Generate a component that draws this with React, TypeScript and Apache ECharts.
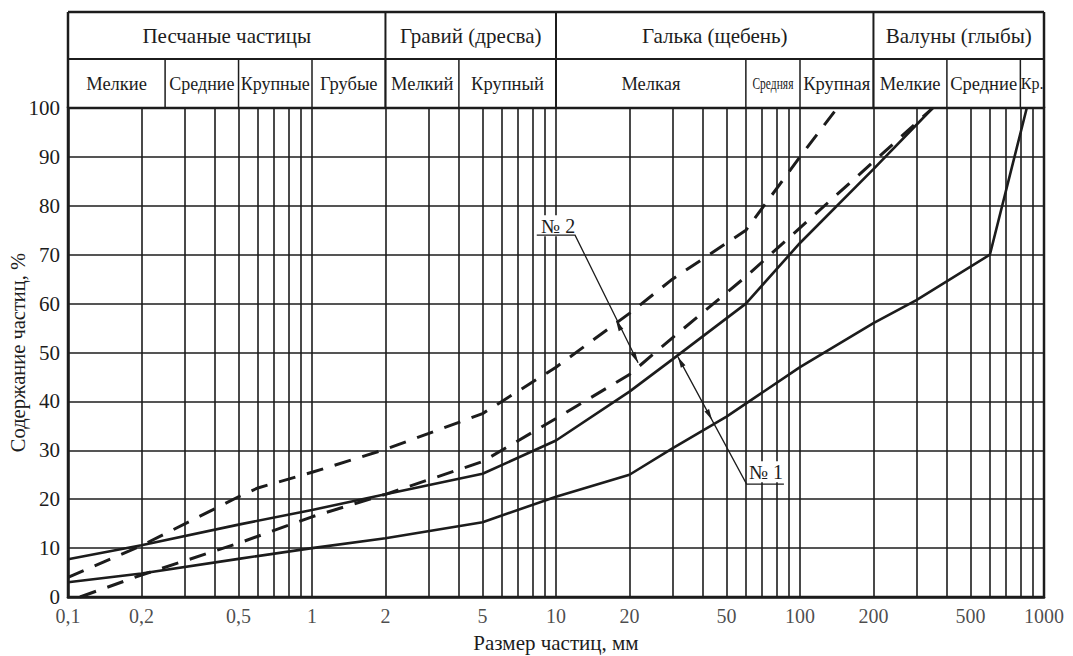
import React, { useEffect, useRef } from "react";
import * as echarts from "echarts";

const FONT = "'Liberation Serif', 'Times New Roman', serif";
const INK = "#1c1c1c";

// Axis titles
const xTitle = "Размер частиц, мм";
const yTitle = "Содержание частиц, %";

// X tick labels (log axis, mm)
const xTicks = [0.1, 0.2, 0.5, 1, 2, 5, 10, 20, 50, 100, 200, 500, 1000];
const xTickLabels = ["0,1", "0,2", "0,5", "1", "2", "5", "10", "20", "50", "100", "200", "500", "1000"];

// Vertical log grid lines
const gridLinesX = [
  0.2, 0.3, 0.4, 0.5, 0.6, 0.7, 0.8, 0.9, 1,
  2, 3, 4, 5, 6, 7, 8, 9, 10,
  20, 30, 40, 50, 60, 70, 80, 90, 100,
  200, 300, 400, 500, 600, 700, 800, 900,
];

// Curve №1 (solid) upper
const sizes1Upper = [0.1, 0.2, 0.5, 1, 2, 5, 10, 20, 30, 60, 100, 200, 350];
const values1Upper = [7.7, 10.6, 14.8, 17.8, 21, 25.2, 32, 42, 48.6, 60, 72.4, 87.5, 100];
// Curve №1 (solid) lower
const sizes1Lower = [0.1, 0.2, 0.5, 1, 2, 5, 10, 20, 30, 50, 100, 200, 300, 600, 850];
const values1Lower = [3, 4.8, 7.8, 10, 12, 15.3, 20.5, 25, 30.4, 36.9, 47, 56, 60.7, 70, 100];
// Curve №2 (dashed) upper
const sizes2Upper = [0.1, 0.2, 0.5, 0.6, 1, 2, 5, 10, 20, 30, 60, 100, 142];
const values2Upper = [4, 10.5, 20.5, 22.3, 25.5, 30.2, 37.5, 47, 58, 65, 75, 90, 100];
// Curve №2 (dashed) lower
const sizes2Lower = [0.112, 0.2, 0.5, 1, 2, 5, 10, 20, 30, 60, 100, 200, 350];
const values2Lower = [0, 4.5, 11, 16.4, 21, 27.7, 36.5, 45.5, 53, 65.5, 75.5, 89, 100];

// Header table
const headerTopBounds = [0.1, 2, 10, 200, 1000];
const headerTopNames = ["Песчаные частицы", "Гравий (дресва)", "Галька (щебень)", "Валуны (глыбы)"];
const headerSubBounds = [0.1, 0.25, 0.5, 1, 2, 4, 10, 60, 100, 200, 400, 800, 1000];
const headerSubNames = ["Мелкие", "Средние", "Крупные", "Грубые", "Мелкий", "Крупный", "Мелкая", "Средняя", "Крупная", "Мелкие", "Средние", "Кр."];
const headerSubSizes = [18.5, 18, 18, 18.5, 18.5, 18.5, 18.5, 16, 18.5, 18.5, 18.5, 16];
const headerSubScaleX = [1, 1, 1, 1, 1, 1, 1, 0.72, 1, 1, 1, 1];

// Annotation leaders (data coordinates: [mm, %])
const note2Label = "№ 2";
const note2Text = [10.2, 75.9];
const note2Line = [[8.34, 74.0], [11.97, 74.0], [21.7, 47.9]];
const note2Arrows = [[17.6, 56.6], [21.7, 47.9]];
const note1Label = "№ 1";
const note1Text = [72.6, 25.6];
const note1Line = [[85.9, 23.1], [60.4, 23.1], [31.6, 49.1]];
const note1Arrows = [[31.6, 49.1], [43.6, 36.2]];

const zip = (xs: number[], ys: number[]) => xs.map((x, i) => [x, ys[i]]);

export default function App() {
  const ref = useRef<HTMLDivElement>(null);

  useEffect(() => {
    if (!ref.current) return;
    const chart = echarts.init(ref.current, null, { renderer: "svg" });

    const curve = (name: string, data: number[][], dashed: boolean) => ({
      name,
      type: "line",
      data,
      showSymbol: false,
      symbol: "none",
      smooth: false,
      z: 5,
      lineStyle: {
        color: INK,
        width: dashed ? 3 : 2.6,
        type: dashed ? [17, 12] : "solid",
      },
    });

    chart.setOption({
      animation: false,
      backgroundColor: "#ffffff",
      textStyle: { fontFamily: FONT },
      grid: {
        left: 68,
        right: 29,
        top: 108,
        bottom: 59,
        outerBoundsMode: "none",
        containLabel: false,
        show: true,
        borderColor: INK,
        borderWidth: 2.5,
        backgroundColor: "transparent",
      },
      xAxis: {
        type: "log",
        logBase: 10,
        min: 0.1,
        max: 1000,
        name: xTitle,
        nameLocation: "middle",
        nameGap: 35,
        nameTextStyle: { fontFamily: FONT, fontSize: 21, color: INK },
        axisLine: { show: true, lineStyle: { color: INK, width: 2.5 } },
        axisTick: { show: false },
        axisLabel: { show: false },
        splitLine: { show: false },
        minorTick: { show: false },
      },
      yAxis: {
        type: "value",
        min: 0,
        max: 100,
        interval: 10,
        axisLine: { show: true, lineStyle: { color: INK, width: 2.5 } },
        axisTick: { show: false },
        axisLabel: { fontFamily: FONT, fontSize: 21, color: INK, margin: 8 },
        splitLine: { show: true, lineStyle: { color: INK, width: 1.6 } },
      },
      series: [
        {
          name: "grid",
          type: "scatter",
          data: xTicks.map((v) => [v, 0]),
          symbolSize: 0,
          clip: false,
          silent: true,
          z: 3,
          label: {
            show: true,
            position: "bottom",
            distance: 9,
            fontFamily: FONT,
            fontSize: 20,
            color: INK,
            formatter: (p: any) => xTickLabels[p.dataIndex],
          },
          markLine: {
            silent: true,
            symbol: ["none", "none"],
            label: { show: false },
            lineStyle: { type: "solid", color: INK, width: 1.6 },
            data: gridLinesX.map((v) => ({ xAxis: v })),
          },
        },
        curve("№1 верх", zip(sizes1Upper, values1Upper), false),
        curve("№1 низ", zip(sizes1Lower, values1Lower), false),
        curve("№2 верх", zip(sizes2Upper, values2Upper), true),
        curve("№2 низ", zip(sizes2Lower, values2Lower), true),
      ],
    });

    const px = (x: number, y: number) => chart.convertToPixel({ gridIndex: 0 }, [x, y]) as number[];
    const top0 = px(0.1, 100)[1];
    const bot0 = px(0.1, 0)[1];
    const hTop = top0 - 96;
    const hMid = top0 - 49;
    const xL = px(0.1, 0)[0];
    const xR = px(1000, 0)[0];

    const g: any[] = [];
    const line = (x1: number, y1: number, x2: number, y2: number, w: number) =>
      g.push({ type: "line", shape: { x1, y1, x2, y2 }, style: { stroke: INK, lineWidth: w }, z: 20 });

    // y-axis title (rotated)
    g.push({
      type: "text",
      x: xL - 50,
      y: (top0 + bot0) / 2,
      rotation: Math.PI / 2,
      z: 21,
      style: { text: yTitle, fontFamily: FONT, fontSize: 20.5, fill: INK, align: "center", verticalAlign: "middle" },
    });

    // header frame
    line(xL, hTop, xR, hTop, 2.5);
    line(xL, hMid, xR, hMid, 2);
    line(xL, hTop, xL, top0, 2.5);
    line(xR, hTop, xR, top0, 2.5);
    headerTopBounds.slice(1, -1).forEach((b) => {
      const x = px(b, 0)[0];
      line(x, hTop, x, top0, 2);
    });
    headerSubBounds.slice(1, -1).forEach((b) => {
      const x = px(b, 0)[0];
      line(x, hMid, x, top0, 1.5);
    });
    headerTopNames.forEach((n, i) => {
      const a = px(headerTopBounds[i], 0)[0];
      const b = px(headerTopBounds[i + 1], 0)[0];
      g.push({
        type: "text",
        x: (a + b) / 2,
        y: (hTop + hMid) / 2,
        z: 21,
        style: { text: n, fontFamily: FONT, fontSize: 21, fill: INK, align: "center", verticalAlign: "middle" },
      });
    });
    headerSubNames.forEach((n, i) => {
      const a = px(headerSubBounds[i], 0)[0];
      const b = px(headerSubBounds[i + 1], 0)[0];
      g.push({
        type: "text",
        x: (a + b) / 2,
        y: (hMid + top0) / 2,
        scaleX: headerSubScaleX[i],
        z: 21,
        style: { text: n, fontFamily: FONT, fontSize: headerSubSizes[i], fill: INK, align: "center", verticalAlign: "middle" },
      });
    });

    // annotations
    const arrow = (tip: number[], from: number[]) => {
      const dx = from[0] - tip[0];
      const dy = from[1] - tip[1];
      const len = Math.hypot(dx, dy) || 1;
      const ux = dx / len, uy = dy / len;
      const L = 11, W = 2.6;
      const bx = tip[0] + ux * L, by = tip[1] + uy * L;
      g.push({
        type: "polygon",
        z: 22,
        shape: { points: [tip, [bx - uy * W, by + ux * W], [bx + uy * W, by - ux * W]] },
        style: { fill: INK },
      });
    };
    const note = (label: string, textPos: number[], pts: number[][], arrows: number[][]) => {
      const p = pts.map((d) => px(d[0], d[1]));
      const tp = px(textPos[0], textPos[1]);
      g.push({
        type: "text",
        x: tp[0],
        y: tp[1],
        z: 21,
        style: {
          text: label, fontFamily: FONT, fontSize: 20, fill: INK, align: "center", verticalAlign: "middle",
          backgroundColor: "#ffffff", padding: [0, 2, 1, 2],
        },
      });
      g.push({ type: "polyline", z: 22, shape: { points: p }, style: { stroke: INK, lineWidth: 1.3, fill: "none" } });
      const a0 = px(arrows[0][0], arrows[0][1]);
      const a1 = px(arrows[1][0], arrows[1][1]);
      arrow(a0, a1);
      arrow(a1, a0);
    };
    note(note2Label, note2Text, note2Line, note2Arrows);
    note(note1Label, note1Text, note1Line, note1Arrows);

    chart.setOption({ graphic: g });

    return () => chart.dispose();
  }, []);

  return (
    <div
      ref={ref}
      style={{ position: "fixed", left: 0, top: 0, width: 1073, height: 656, background: "#fff" }}
    />
  );
}
